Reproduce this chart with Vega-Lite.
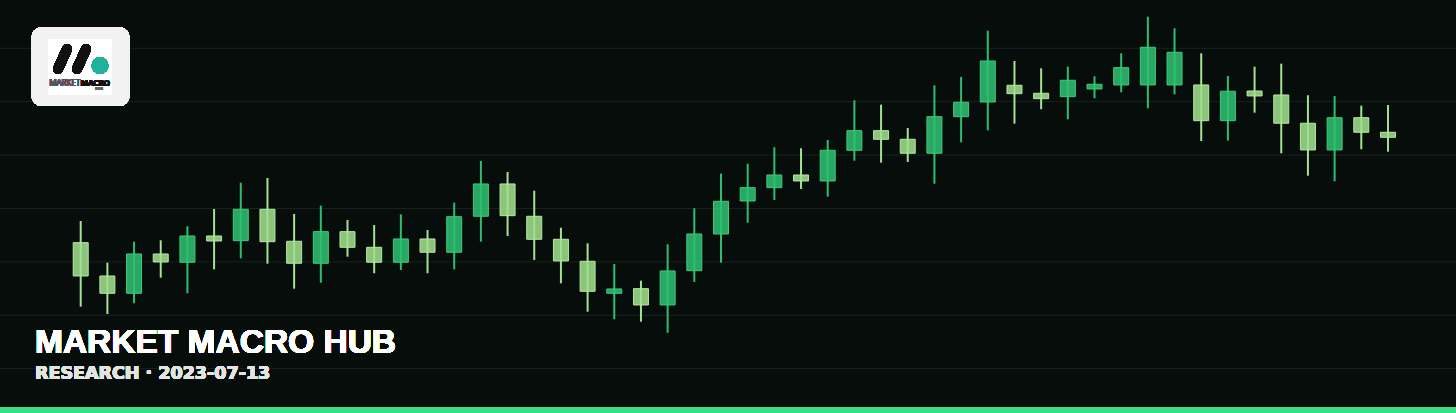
{
  "$schema": "https://vega.github.io/schema/vega-lite/v6.json",
  "width": 1456,
  "height": 413,
  "padding": 0,
  "autosize": {"type": "none"},
  "background": "#060d0b",
  "config": {"view": {"stroke": null}},
  "datasets": {
    "candles": [
      {"day":1,"open":123.60,"high":127.66,"low":111.61,"close":117.36},
      {"day":2,"open":117.36,"high":119.85,"low":110.24,"close":114.12},
      {"day":3,"open":114.12,"high":123.78,"low":112.25,"close":121.48},
      {"day":4,"open":121.48,"high":124.04,"low":117.04,"close":119.98},
      {"day":5,"open":119.93,"high":126.67,"low":114.12,"close":124.85},
      {"day":6,"open":124.85,"high":129.91,"low":118.61,"close":123.91},
      {"day":7,"open":123.97,"high":134.83,"low":120.67,"close":129.85},
      {"day":8,"open":129.85,"high":135.71,"low":119.66,"close":123.78},
      {"day":9,"open":123.86,"high":128.97,"low":114.98,"close":119.74},
      {"day":10,"open":119.74,"high":130.52,"low":116.10,"close":125.66},
      {"day":11,"open":125.66,"high":127.85,"low":120.97,"close":122.73},
      {"day":12,"open":122.73,"high":126.91,"low":117.87,"close":119.93},
      {"day":13,"open":119.93,"high":128.91,"low":118.48,"close":124.29},
      {"day":14,"open":124.29,"high":125.97,"low":117.87,"close":121.80},
      {"day":15,"open":121.80,"high":131.09,"low":118.61,"close":128.46},
      {"day":16,"open":128.54,"high":138.90,"low":123.78,"close":134.59},
      {"day":17,"open":134.59,"high":136.84,"low":124.85,"close":128.65},
      {"day":18,"open":128.54,"high":133.33,"low":120.36,"close":124.23},
      {"day":19,"open":124.23,"high":126.40,"low":115.99,"close":120.17},
      {"day":20,"open":120.11,"high":123.48,"low":110.67,"close":114.49},
      {"day":21,"open":114.12,"high":119.61,"low":109.25,"close":114.93},
      {"day":22,"open":114.98,"high":116.48,"low":108.80,"close":111.93},
      {"day":23,"open":111.93,"high":123.30,"low":106.74,"close":118.30},
      {"day":24,"open":118.35,"high":130.04,"low":116.24,"close":125.22},
      {"day":25,"open":125.22,"high":136.52,"low":119.85,"close":131.35},
      {"day":26,"open":131.40,"high":138.39,"low":127.34,"close":133.90},
      {"day":27,"open":133.90,"high":141.46,"low":131.59,"close":136.27},
      {"day":28,"open":136.27,"high":141.27,"low":133.65,"close":135.15},
      {"day":29,"open":135.15,"high":142.83,"low":132.21,"close":140.90},
      {"day":30,"open":140.90,"high":150.26,"low":138.95,"close":144.57},
      {"day":31,"open":144.57,"high":149.44,"low":138.58,"close":142.96},
      {"day":32,"open":142.96,"high":145.07,"low":138.71,"close":140.34},
      {"day":33,"open":140.34,"high":153.07,"low":134.64,"close":147.19},
      {"day":34,"open":147.19,"high":154.63,"low":142.40,"close":149.89},
      {"day":35,"open":149.94,"high":163.30,"low":144.64,"close":157.62},
      {"day":36,"open":153.07,"high":157.62,"low":145.88,"close":151.50},
      {"day":37,"open":151.57,"high":156.25,"low":148.58,"close":150.56},
      {"day":38,"open":150.94,"high":156.55,"low":146.70,"close":154.01},
      {"day":39,"open":152.38,"high":154.76,"low":150.64,"close":153.26},
      {"day":40,"open":153.13,"high":159.06,"low":151.76,"close":156.37},
      {"day":41,"open":153.13,"high":165.92,"low":148.76,"close":160.19},
      {"day":42,"open":153.13,"high":163.75,"low":151.39,"close":159.25},
      {"day":43,"open":153.13,"high":159.06,"low":142.64,"close":146.44},
      {"day":44,"open":146.44,"high":154.81,"low":142.70,"close":151.95},
      {"day":45,"open":152.00,"high":156.55,"low":147.94,"close":151.07},
      {"day":46,"open":151.25,"high":157.12,"low":140.34,"close":145.96},
      {"day":47,"open":145.96,"high":151.20,"low":136.14,"close":140.96},
      {"day":48,"open":140.96,"high":151.07,"low":135.09,"close":147.00},
      {"day":49,"open":147.00,"high":149.25,"low":141.09,"close":144.27},
      {"day":50,"open":144.27,"high":149.38,"low":140.64,"close":143.33}
    ],
    "grid": [{"level":100},{"level":110},{"level":120},{"level":130},{"level":140},{"level":150},{"level":160}]
  },
  "data": {"name": "candles"},
  "layer": [
    {
      "data": {"name": "grid"},
      "mark": {"type": "rule", "stroke": "#18231f", "strokeWidth": 1},
      "encoding": {
        "y": {"field": "level", "type": "quantitative", "scale": {"domain": [91.70, 169.04], "nice": false, "zero": false, "padding": 0}, "axis": null}
      }
    },
    {
      "mark": {"type": "rule", "strokeWidth": 2},
      "encoding": {
        "x": {"field": "day", "type": "quantitative", "scale": {"domain": [-2.025, 52.55], "nice": false, "zero": false, "padding": 0}, "axis": null},
        "y": {"field": "low", "type": "quantitative", "axis": null},
        "y2": {"field": "high"},
        "color": {"condition": {"test": "datum.close >= datum.open", "value": "#2fbe6f"}, "value": "#a6e293"}
      }
    },
    {
      "mark": {"type": "bar", "size": 15, "fillOpacity": 0.88, "strokeWidth": 1},
      "encoding": {
        "x": {"field": "day", "type": "quantitative", "axis": null},
        "y": {"field": "open", "type": "quantitative", "axis": null},
        "y2": {"field": "close"},
        "color": {"condition": {"test": "datum.close >= datum.open", "value": "#2fbe6f"}, "value": "#a0de8c"},
        "stroke": {"condition": {"test": "datum.close >= datum.open", "value": "#3fcb7c"}, "value": "#b4eaa0"}
      }
    },
    {
      "mark": {"type": "rect", "fill": "#3ddc84", "clip": true},
      "encoding": {
        "x": {"datum": -2.025, "type": "quantitative", "axis": null},
        "x2": {"datum": 52.55},
        "y": {"datum": 91.70, "type": "quantitative", "axis": null},
        "y2": {"datum": 92.83}
      }
    },
    {
      "mark": {"type": "rect", "fill": "#f2f2f2", "cornerRadius": 10},
      "encoding": {
        "x": {"datum": -0.837, "type": "quantitative", "axis": null},
        "x2": {"datum": 2.822},
        "y": {"datum": 149.19, "type": "quantitative", "axis": null},
        "y2": {"datum": 163.93}
      }
    },
    {
      "mark": {"type": "rect", "fill": "#ffffff"},
      "encoding": {
        "x": {"datum": -0.214, "type": "quantitative", "axis": null},
        "x2": {"datum": 2.162},
        "y": {"datum": 151.25, "type": "quantitative", "axis": null},
        "y2": {"datum": 161.69}
      }
    },
    {
      "mark": {"type": "rule", "stroke": "#111111", "strokeWidth": 10, "strokeCap": "round"},
      "encoding": {
        "x": {"datum": 0.487, "type": "quantitative", "axis": null},
        "x2": {"datum": 0.149},
        "y": {"datum": 159.87, "type": "quantitative", "axis": null},
        "y2": {"datum": 156.12}
      }
    },
    {
      "mark": {"type": "rule", "stroke": "#111111", "strokeWidth": 10, "strokeCap": "round"},
      "encoding": {
        "x": {"datum": 1.199, "type": "quantitative", "axis": null},
        "x2": {"datum": 0.861},
        "y": {"datum": 159.87, "type": "quantitative", "axis": null},
        "y2": {"datum": 156.12}
      }
    },
    {
      "mark": {"type": "point", "shape": "circle", "filled": true, "fill": "#20b29a", "strokeWidth": 0, "size": 280, "opacity": 1},
      "encoding": {
        "x": {"datum": 1.723, "type": "quantitative", "axis": null},
        "y": {"datum": 156.74, "type": "quantitative", "axis": null}
      }
    },
    {
      "mark": {"type": "text", "font": "Noto Sans", "fontSize": 8, "fontWeight": "normal", "fill": "#555555", "align": "right", "baseline": "alphabetic"},
      "encoding": {
        "x": {"datum": 0.99, "type": "quantitative", "axis": null},
        "y": {"datum": 152.94, "type": "quantitative", "axis": null},
        "text": {"value": "MARKET"}
      }
    },
    {
      "mark": {"type": "text", "font": "Noto Sans", "fontSize": 8, "fontWeight": "bold", "fill": "#111111", "align": "left", "baseline": "alphabetic"},
      "encoding": {
        "x": {"datum": 0.99, "type": "quantitative", "axis": null},
        "y": {"datum": 152.94, "type": "quantitative", "axis": null},
        "text": {"value": "MACRO"}
      }
    },
    {
      "mark": {"type": "text", "font": "Noto Sans", "fontSize": 3.5, "fill": "#666666", "align": "center", "baseline": "alphabetic"},
      "encoding": {
        "x": {"datum": 1.686, "type": "quantitative", "axis": null},
        "y": {"datum": 152.1, "type": "quantitative", "axis": null},
        "text": {"value": "HUB"}
      }
    },
    {
      "mark": {"type": "text", "font": "Liberation Sans", "fontSize": 33.5, "fontWeight": "bold", "fill": "#ffffff", "align": "left", "baseline": "alphabetic"},
      "encoding": {
        "x": {"datum": -0.713, "type": "quantitative", "axis": null},
        "y": {"datum": 103.0, "type": "quantitative", "axis": null},
        "text": {"value": "MARKET MACRO HUB"}
      }
    },
    {
      "mark": {"type": "text", "font": "DejaVu Sans", "fontSize": 17.5, "fontWeight": "bold", "fill": "#e4e4e4", "align": "left", "baseline": "alphabetic"},
      "encoding": {
        "x": {"datum": -0.713, "type": "quantitative", "axis": null},
        "y": {"datum": 98.01, "type": "quantitative", "axis": null},
        "text": {"value": "RESEARCH · 2023-07-13"}
      }
    }
  ]
}
